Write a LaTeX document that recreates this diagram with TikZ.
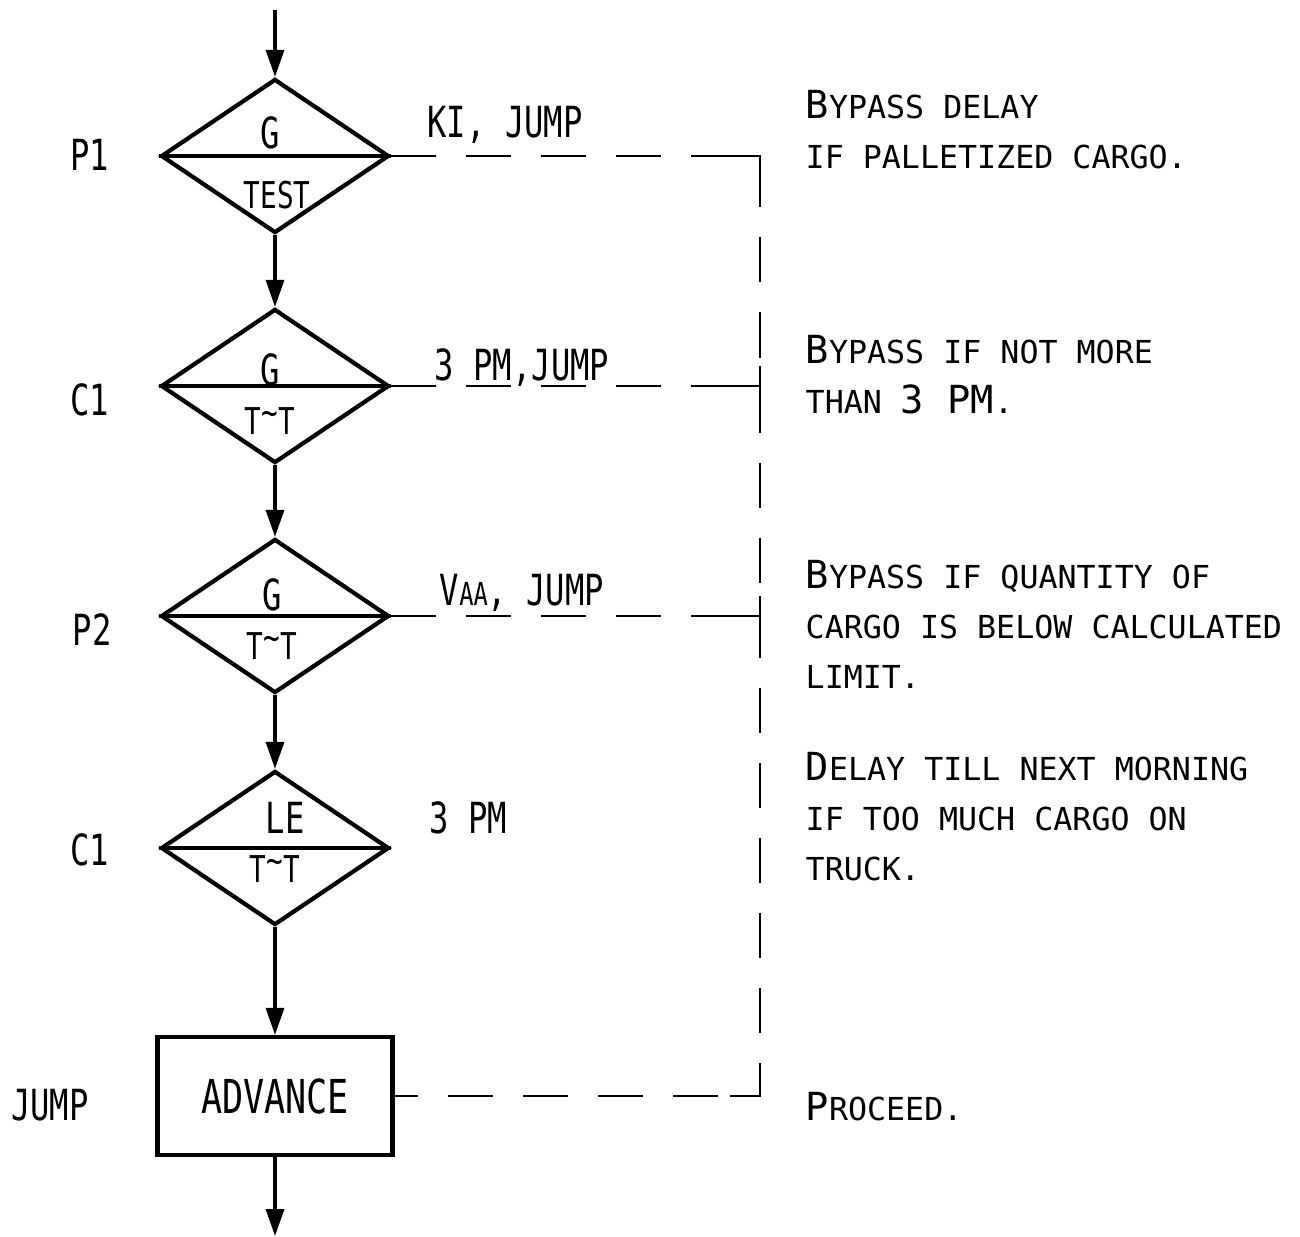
\documentclass[tikz,border=0pt]{standalone}
\usepackage{fontspec}
\setmonofont{DejaVu Sans Mono}
\usepackage{graphicx}
\usetikzlibrary{shapes.geometric,arrows.meta,positioning}

\newcommand{\narrow}[1]{\scalebox{0.75}[1]{#1}}
\newcommand{\Ini}[1]{{\fontsize{11}{14}\selectfont #1}}
\newcommand{\tilt}{T\raisebox{0.45ex}{\textasciitilde}T}

\tikzset{
  decision/.style={diamond, draw, line width=1.2pt, minimum width=2.28cm, minimum height=1.54cm, inner sep=0pt},
  block/.style={rectangle, draw, line width=1.2pt, minimum width=2.35cm, minimum height=1.18cm},
  divider/.style={line width=1.2pt},
  lbl/.style={font=\ttfamily\fontsize{12.2}{14}\selectfont},
  small lbl/.style={font=\ttfamily\fontsize{10.5}{12}\selectfont},
  note/.style={font=\ttfamily\fontsize{9}{14.2}\selectfont, align=left, anchor=north west, inner sep=0pt},
  bypass/.style={dash pattern=on 0.45cm off 0.3cm, line width=0.7pt},
  corner/.style={line width=0.7pt},
  flow/.style={->, line width=1pt},
}

\begin{document}
\begin{tikzpicture}[x=0.01cm, y=-0.01cm, >={Triangle[length=0.27cm, width=0.18cm]}]
    \useasboundingbox (0,0) rectangle (1300,1236);

    \node (p1) at (275,156) [decision] {};
    \node (c1) at (275,386) [decision] {};
    \node (p2) at (275,616) [decision] {};
    \node (c2) at (275,848) [decision] {};
    \node (adv) at (275,1096) [block, font=\ttfamily\fontsize{13.3}{15}\selectfont] {\narrow{ADVANCE}};

    \coordinate (in) at (275,10);
    \coordinate (out) at (275,1236);
    \coordinate (rail) at (760,0);

    \foreach \d in {p1,c1,p2,c2}
        \draw[divider] (\d.west) -- (\d.east);

    % block texts
    \node (p1-top) at (270,133) [lbl] {\narrow{G}};
    \node (p1-bot) at (277,195) [small lbl] {\narrow{TEST}};
    \node (c1-top) at (270,370) [lbl] {\narrow{G}};
    \node (c1-bot) at (270,421) [small lbl] {\narrow{\tilt}};
    \node (p2-top) at (272,595) [lbl] {\narrow{G}};
    \node (p2-bot) at (272,646) [small lbl] {\narrow{\tilt}};
    \node (c2-top) at (285,818) [lbl] {\narrow{LE}};
    \node (c2-bot) at (275,869) [small lbl] {\narrow{\tilt}};

    % names on the left
    \node (p1-name) at (90,155) [lbl] {\narrow{P1}};
    \node (c1-name) at (90,400) [lbl] {\narrow{C1}};
    \node (p2-name) at (92,630) [lbl] {\narrow{P2}};
    \node (c2-name) at (90,850) [lbl] {\narrow{C1}};
    \node (adv-name) at (50,1105) [lbl] {\narrow{JUMP}};

    \draw[flow] (in) -- (p1.north);
    \draw[flow] (p1.south) -- (c1.north);
    \draw[flow] (c1.south) -- (p2.north);
    \draw[flow] (p2.south) -- (c2.north);
    \draw[flow] (c2.south) -- (adv.north);
    \draw[flow] (adv.south) -- (out);

    \draw[bypass] (p1.east) -- (p1.east -| rail) -- (adv.east -| rail) -- (adv.east);
    \draw[bypass] (c1.east) -- (c1.east -| rail);
    \draw[bypass] (p2.east) -- (p2.east -| rail);
    \draw[corner] ([xshift=-0.3cm]p1.east -| rail) -- (p1.east -| rail) -- ++(0,25);
    \draw[corner] ([xshift=-0.3cm]adv.east -| rail) -- (adv.east -| rail) -- ++(0,-25);
    \draw[corner] ([xshift=-0.3cm]c1.east -| rail) -- (c1.east -| rail);
    \draw[corner] ([yshift=0.2cm]c1.east -| rail) -- ([yshift=-0.2cm]c1.east -| rail);
    \draw[corner] ([xshift=-0.3cm]p2.east -| rail) -- (p2.east -| rail);
    \draw[corner] ([yshift=0.2cm]p2.east -| rail) -- ([yshift=-0.2cm]p2.east -| rail);

    % operands
    \node (p1-op) at (505,125) [lbl] {\narrow{KI, JUMP}};
    \node (c1-op) at (522,380) [lbl, anchor=base] {\narrow{3 PM,JUMP}};
    \node (p2-op) at (522,605) [lbl, anchor=base] {\narrow{V{\fontsize{9}{10}\selectfont AA}, JUMP}};
    \node (c2-op) at (468,818) [lbl] {\narrow{3 PM}};

    % comments
    \node (p1-note) at (805,90) [note] {\Ini{B}YPASS DELAY\\IF PALLETIZED CARGO.};
    \node (c1-note) at (805,335) [note] {\Ini{B}YPASS IF NOT MORE\\THAN \Ini{3 PM}.};
    \node (p2-note) at (805,560) [note] {\Ini{B}YPASS IF QUANTITY OF\\CARGO IS BELOW CALCULATED\\LIMIT.};
    \node (c2-note) at (805,752) [note] {\Ini{D}ELAY TILL NEXT MORNING\\IF TOO MUCH CARGO ON\\TRUCK.};
    \node (adv-note) at (805,1092) [note] {\Ini{P}ROCEED.};

\end{tikzpicture}
\end{document}
